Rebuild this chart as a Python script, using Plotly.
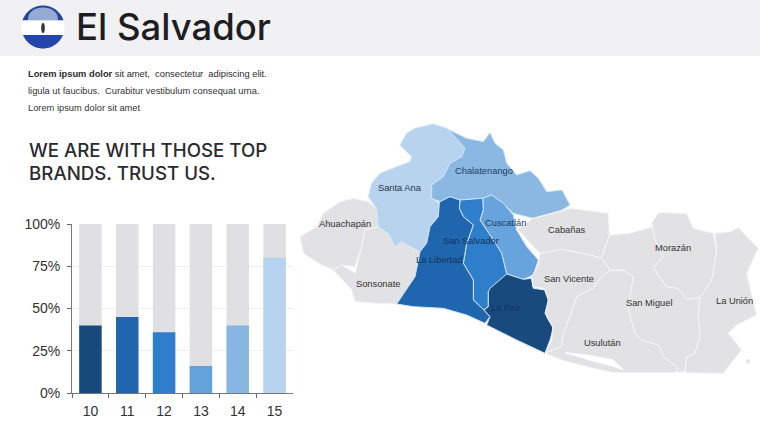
import math
import plotly.graph_objects as go

categories = ["10", "11", "12", "13", "14", "15"]
values = [40, 45, 36, 16, 40, 80]
totals = [100, 100, 100, 100, 100, 100]
bar_colors = ["#174a7c", "#1f66ae", "#2e7ecb", "#64a2dc", "#86b6e1", "#b7d3ee"]
y_ticks = [0, 25, 50, 75, 100]
y_tick_labels = ["0%", "25%", "50%", "75%", "100%"]

GREY = "#e2e1e4"
west = {
    "Ahuachapán": (GREY, [(0,350),(50,320),(70,280),(120,245),(160,235),(205,245),(230,265),(235,320),(195,330),(185,380),(165,440),(125,435),(100,450),(55,430),(10,400)]),
    "Sonsonate": (GREY, [(235,320),(265,340),(285,380),(305,365),(340,385),(360,395),(345,470),(290,552),(230,550),(165,545),(155,510),(100,450),(125,435),(165,460),(185,380),(195,330)]),
    "Santa Ana": ("#b8d3ee", [(205,230),(215,190),(240,160),(290,140),(330,125),(335,110),(300,75),(320,40),(345,25),(400,12),(440,25),(470,50),(495,85),(485,110),(450,130),(430,170),(395,195),(395,235),(418,250),(415,290),(390,320),(380,370),(360,395),(340,385),(305,365),(285,380),(265,340),(235,320),(230,265)]),
    "Chalatenango": ("#8ab8e3", [(445,28),(500,55),(550,65),(570,38),(585,70),(610,90),(620,130),(650,165),(690,152),(715,175),(740,215),(786,210),(810,255),(786,270),(700,295),(640,280),(610,250),(575,225),(548,235),(480,240),(450,230),(420,245),(395,235),(395,195),(430,170),(450,130),(485,110),(495,85)]),
    "Cuscatlán": ("#67a3dc", [(548,235),(575,225),(610,250),(640,285),(650,330),(680,380),(715,420),(700,465),(670,478),(620,462),(605,400),(580,360),(540,300),(550,270)]),
    "San Salvador": ("#2f7ecb", [(480,240),(548,235),(550,270),(540,300),(580,360),(605,400),(620,462),(590,500),(565,515),(565,560),(552,570),(520,540),(520,480),(490,430),(500,370),(520,315),(490,290),(478,265)]),
    "La Libertad": ("#1f66ae", [(420,245),(450,230),(480,240),(478,265),(490,290),(520,315),(500,370),(490,430),(520,480),(520,540),(552,570),(570,590),(555,610),(500,585),(430,565),(340,560),(290,552),(345,470),(360,395),(380,370),(390,320),(415,290),(418,250)]),
    "La Paz": ("#184a7e", [(570,505),(620,462),(670,478),(695,475),(700,505),(735,510),(745,540),(740,590),(760,625),(750,660),(735,700),(650,660),(560,615),(570,590),(552,570),(565,560),(565,515)]),
}
east = {
    "Cabañas": (GREY, [(39,85),(100,70),(150,55),(265,70),(268,135),(245,205),(210,195),(125,178),(60,190),(35,165),(0,125),(-10,120)]),
    "San Vicente": (GREY, [(60,190),(125,178),(210,195),(245,205),(270,240),(240,265),(220,295),(170,320),(150,380),(130,430),(125,470),(75,490),(95,450),(98,410),(75,370),(85,330),(72,295),(38,290),(35,260),(55,225)]),
    "Usulután": (GREY, [(170,320),(220,295),(240,265),(270,240),(310,240),(340,260),(325,355),(345,430),(365,450),(415,465),(430,500),(475,535),(465,548),(370,548),(330,548),(280,548),(220,535),(130,512),(75,490),(125,470),(130,430),(150,380)]),
    "San Miguel": (GREY, [(245,205),(268,135),(330,130),(395,110),(430,200),(400,235),(440,290),(475,295),(500,328),(540,322),(535,380),(540,440),(525,490),(500,500),(495,545),(465,548),(475,535),(430,500),(415,465),(365,450),(345,430),(325,355),(340,260),(310,240),(270,240)]),
    "Morazán": (GREY, [(395,100),(415,68),(500,70),(520,115),(580,130),(590,190),(575,270),(540,322),(500,328),(475,295),(440,290),(400,235),(430,200),(405,150)]),
    "La Unión": (GREY, [(585,130),(630,125),(655,112),(715,175),(680,250),(710,375),(650,405),(625,430),(665,480),(610,550),(495,548),(500,500),(525,490),(540,440),(535,380),(540,322),(575,270),(590,190)]),
    "": (GREY, [(678,508),(690,508),(690,520),(678,520)]),
    "Inlet": ("#ffffff", [(135,488),(200,495),(280,510),(310,540),(285,530),(215,512)]),
}
labels = [
    ("Santa Ana", 400, 188, "#26384f"), ("Chalatenango", 484, 171, "#1f3a5c"),
    ("Ahuachapán", 345, 224, "#333333"), ("Cuscatlán", 505, 223, "#1f3a5c"),
    ("Cabañas", 567, 230, "#333333"), ("San Salvador", 471, 241, "#14365c"),
    ("La Libertad", 439, 260, "#14365c"), ("Sonsonate", 378, 284, "#333333"),
    ("San Vicente", 569, 279, "#333333"), ("La Paz", 505, 308, "#12305a"),
    ("Morazán", 673, 248, "#333333"), ("San Miguel", 649, 303, "#333333"),
    ("La Unión", 734, 301, "#333333"), ("Usulután", 602, 343, "#333333"),
]

fig = go.Figure()

fig.add_trace(go.Bar(x=categories, y=totals, marker=dict(color="#e0dfe2", line_width=0),
                     width=0.61, xaxis="x", yaxis="y", showlegend=False, hoverinfo="skip"))
fig.add_trace(go.Bar(x=categories, y=values, marker=dict(color=bar_colors, line_width=0),
                     width=0.61, xaxis="x", yaxis="y", showlegend=False))


def add_region(name, color, pts, ox, oy):
    xs = [ox + p[0] / 3 for p in pts] + [ox + pts[0][0] / 3]
    ys = [oy + p[1] / 3 for p in pts] + [oy + pts[0][1] / 3]
    edge = "#f6f6f8" if color == GREY else ("#ffffff" if color == "#ffffff" else "#cfe4f8")
    fig.add_trace(go.Scatter(x=xs, y=ys, mode="lines", fill="toself", fillcolor=color,
                             line=dict(color=edge, width=1), xaxis="x2", yaxis="y2",
                             showlegend=False, name=name, hoverinfo="skip"))


for n, (c, p) in west.items():
    add_region(n, c, p, 300, 120)
for n, (c, p) in east.items():
    add_region(n, c, p, 520, 190)

# flag emblem
cx, cy, r = 43, 27, 21.5


def arc_path(y0, y1):
    a0 = math.asin((y0 - cy) / r)
    a1 = math.asin((y1 - cy) / r)
    n = 24
    right = [(cx + r * math.cos(a0 + (a1 - a0) * i / n), cy + r * math.sin(a0 + (a1 - a0) * i / n)) for i in range(n + 1)]
    left = [(2 * cx - x, y) for x, y in reversed(right)]
    pts = right + left
    return "M" + " L".join(f"{x:.1f},{y:.1f}" for x, y in pts) + " Z"


shapes = [
    dict(type="rect", xref="x2", yref="y2", x0=0, x1=760, y0=0, y1=56, fillcolor="#f1f1f3", line_width=0, layer="below"),
    dict(type="path", xref="x2", yref="y2", path=arc_path(5.6, 20.5), fillcolor="#26459a", line_width=0),
    dict(type="circle", xref="x2", yref="y2", x0=28, x1=58, y0=7.5, y1=30, fillcolor="rgba(200,212,238,0.7)", line_width=0),
    dict(type="path", xref="x2", yref="y2", path=arc_path(20.5, 35), fillcolor="#ffffff", line_width=0),
    dict(type="path", xref="x2", yref="y2", path=arc_path(35, 48.4), fillcolor="#2346ad", line_width=0),
    dict(type="circle", xref="x2", yref="y2", x0=41.2, x1=44.8, y0=23, y1=33, fillcolor="#333333", line_width=0),
]

ann = []
for t, x, y, col in labels:
    ann.append(dict(text=t, x=x, y=y, xref="x2", yref="y2", showarrow=False,
                    font=dict(family="Liberation Sans", size=9.3, color=col)))


def left_text(t, x, y, size, col, family, weight="normal"):
    ann.append(dict(text=t, x=x, y=y, xref="x2", yref="y2", showarrow=False, xanchor="left",
                    font=dict(family=family, size=size, color=col, weight=weight)))


left_text("El Salvador", 74, 27, 36.5, "#1e1e22", "Inter", 500)
left_text("<b>Lorem ipsum dolor</b> sit amet,  consectetur  adipiscing elit.", 26, 74, 9.3, "#2a2a2a", "Liberation Sans")
left_text("ligula ut faucibus.  Curabitur vestibulum consequat urna.", 26, 91, 9.3, "#333333", "Liberation Sans")
left_text("Lorem ipsum dolor sit amet", 26, 108, 9.3, "#333333", "Liberation Sans")
left_text("WE ARE WITH THOSE TOP", 27, 150, 18.7, "#2b2b2f", "Inter", 500)
left_text("BRANDS. TRUST US.", 27, 173, 18.7, "#2b2b2f", "Inter", 500)

fig.update_layout(
    width=760, height=428, margin=dict(l=0, r=0, t=0, b=0, autoexpand=False),
    paper_bgcolor="#ffffff", plot_bgcolor="rgba(0,0,0,0)",
    barmode="overlay", shapes=shapes, annotations=ann, showlegend=False,
    xaxis=dict(domain=[72 / 760, 293 / 760], anchor="y", type="category", tickson="boundaries",
               ticks="outside", ticklen=4, tickcolor="#666666", showline=True, linecolor="#777777",
               linewidth=1, showgrid=False, range=[-0.5, 5.5], ticklabelstandoff=5,
               tickfont=dict(family="Liberation Sans", size=14, color="#333333")),
    yaxis=dict(domain=[1 - 393 / 428, 1 - 224 / 428], anchor="x", range=[0, 100], tickvals=y_ticks,
               ticktext=y_tick_labels, ticks="outside", ticklen=4, tickcolor="#666666", showline=True,
               linecolor="#777777", linewidth=1, showgrid=True, gridcolor="#efeff1", gridwidth=1,
               zeroline=False, ticklabelstandoff=4,
               tickfont=dict(family="Liberation Sans", size=14, color="#333333")),
    xaxis2=dict(domain=[0, 1], anchor="y2", range=[0, 760], visible=False, fixedrange=True),
    yaxis2=dict(domain=[0, 1], anchor="x2", range=[428, 0], visible=False, fixedrange=True),
)

fig.write_html("out.html", config=dict(displayModeBar=False),
               post_script="document.body.style.margin='0';document.body.style.overflow='hidden';")
